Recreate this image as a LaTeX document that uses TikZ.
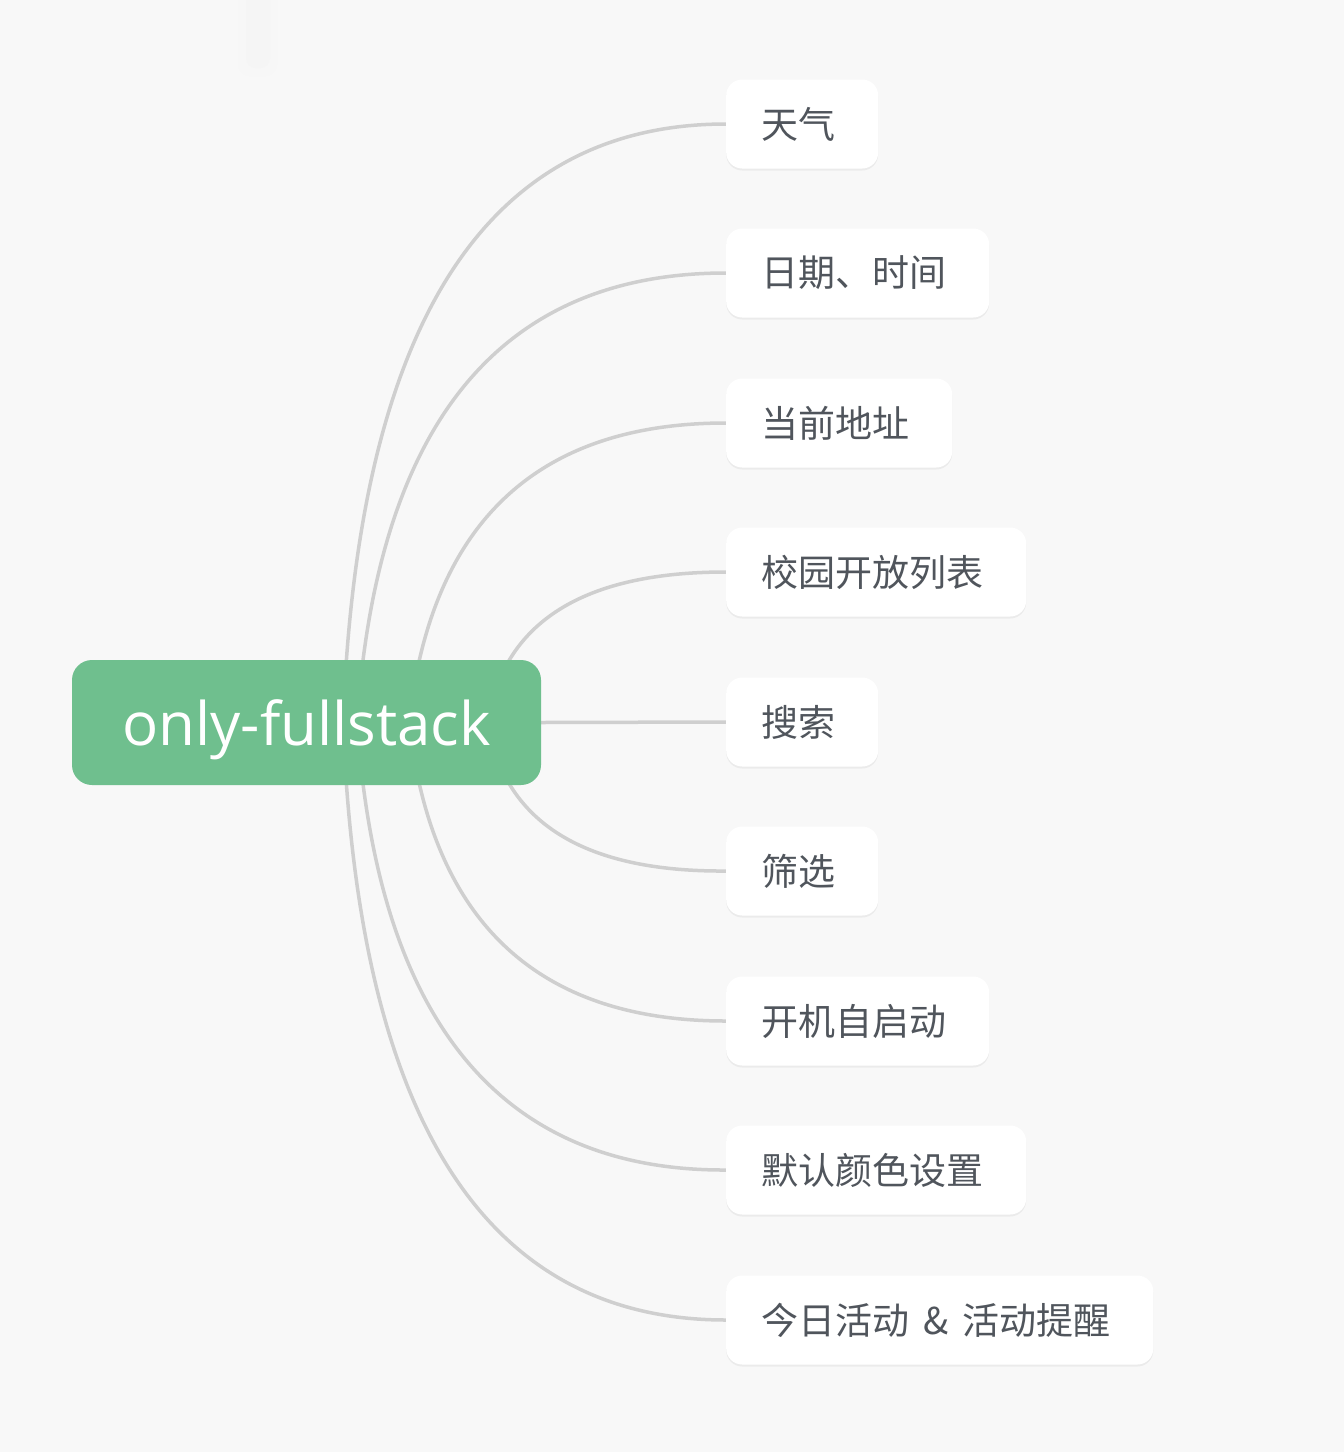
\documentclass[tikz,border=0pt]{standalone}
\usepackage{fontspec}
\setmainfont{Open Sans}
\newfontfamily\cjk{Noto Sans CJK SC}
\usetikzlibrary{backgrounds,shadows}
\definecolor{bgc}{HTML}{F8F8F8}
\definecolor{linec}{HTML}{CFCFCF}
\definecolor{rootc}{HTML}{6FBF8E}
\definecolor{txtc}{HTML}{50555C}
\tikzset{
  rootbox/.style={fill=rootc, rounded corners=20pt, minimum width=469pt, minimum height=125pt,
    text=white, font=\fontsize{60}{60}\selectfont, inner sep=0pt},
  leafbox/.style={fill=white, rounded corners=16pt, anchor=west, minimum height=89pt,
    inner xsep=35pt, inner ysep=0pt, text=txtc, font=\cjk\fontsize{37}{37}\selectfont,
    execute at end node={\hspace{8pt}},
    drop shadow={shadow xshift=0pt, shadow yshift=-2pt, opacity=0.05, fill=black}},
  branch/.style={draw=linec, line width=3.5pt},
}
\begin{document}
\begin{tikzpicture}[x=1pt,y=-1pt]
\useasboundingbox (0,0) rectangle (1344,1452);
% nodes
\node[rootbox] (root) at (306.5,722.5) {\raisebox{-7pt}[\height][\depth]{only-fullstack}};
\node[leafbox] (c1) at (726,124) {天气};
\node[leafbox] (c2) at (726,273) {日期、时间};
\node[leafbox] (c3) at (726,423) {当前地址};
\node[leafbox] (c4) at (726,572) {校园开放列表};
\node[leafbox] (c5) at (726,722) {搜索};
\node[leafbox] (c6) at (726,871) {筛选};
\node[leafbox] (c7) at (726,1021) {开机自启动};
\node[leafbox] (c8) at (726,1170) {默认颜色设置};
\node[leafbox] (c9) at (726,1320) {今日活动\hspace{14pt}\&\hspace{14pt}活动提醒};
% start points of branches (hidden under the root)
\coordinate (s1) at (343,722);
\coordinate (s2) at (357,722);
\coordinate (s3) at (409,722);
\coordinate (s4) at (487.5,722);
\begin{scope}[on background layer]
  \fill[bgc] (0,0) rectangle (1344,1452);
  \fill[black!3, rounded corners=12pt] (238,-20) rectangle (277,76);
  \fill[black!4, rounded corners=10pt] (246,-20) rectangle (270,68);
  \draw[branch] (s1) .. controls (358.3,323.3) and (486,124) .. (c1.west);
  \draw[branch] (s2) .. controls (377.7,422.7) and (500.7,273) .. (c2.west);
  \draw[branch] (s3) .. controls (431.3,522.7) and (537,423) .. (c3.west);
  \draw[branch] (s4) .. controls (503.8,622) and (583.3,572) .. (c4.west);
  \draw[branch] (root.east) -- (c5.west);
  \draw[branch] (s4) .. controls (503.8,822) and (583.3,872) .. (c6.west);
  \draw[branch] (s3) .. controls (431.3,921.3) and (537,1021) .. (c7.west);
  \draw[branch] (s2) .. controls (377.7,1021.3) and (500.7,1171) .. (c8.west);
  \draw[branch] (s1) .. controls (358.3,1120.7) and (486,1320) .. (c9.west);
\end{scope}
\end{tikzpicture}
\end{document}
